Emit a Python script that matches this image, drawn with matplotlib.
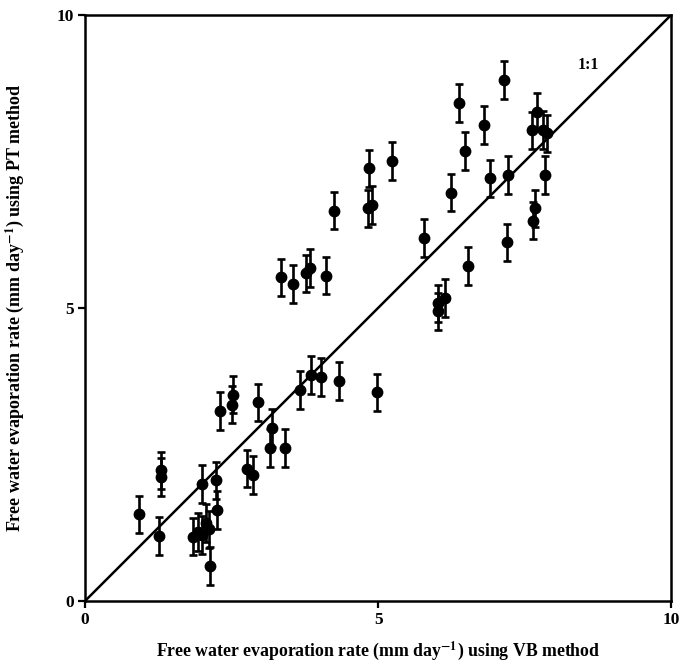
import matplotlib.pyplot as plt

plt.rcParams['font.family'] = ['Liberation Serif', 'DejaVu Serif']
plt.rcParams['font.weight'] = 'bold'
plt.rcParams['mathtext.fontset'] = 'stix'

# VB method (x) vs PT method (y), mm/day
vb = [0.92, 1.27, 1.29, 1.29, 1.99, 2.24, 2.26, 2.14,
      1.85, 1.92, 2.00, 2.06, 2.12,
      2.30, 2.50, 2.53, 2.95, 2.76, 2.87, 3.15, 3.19, 3.42,
      3.67, 3.85, 4.03, 4.33, 4.98,
      3.34, 3.54, 3.77, 3.84, 4.12,
      4.25, 4.82, 4.90, 4.85, 5.23,
      5.79, 6.03, 6.03, 6.14, 6.25, 6.38, 6.48, 6.54, 6.81, 6.91,
      7.14, 7.20, 7.22, 7.65, 7.68, 7.62, 7.71, 7.82, 7.88, 7.85]
pt = [1.48, 1.11, 2.23, 2.12, 2.00, 2.06, 1.55, 0.60,
      1.10, 1.18, 1.13, 1.33, 1.22,
      3.24, 3.35, 3.52, 3.39, 2.26, 2.15, 2.61, 2.95, 2.61,
      3.60, 3.86, 3.82, 3.75, 3.56,
      5.52, 5.41, 5.59, 5.68, 5.55,
      6.66, 6.70, 6.76, 7.38, 7.51,
      6.19, 5.08, 4.94, 5.17, 6.97, 8.50, 7.68, 5.72, 8.12, 7.21,
      8.89, 6.12, 7.27, 6.49, 6.70, 8.03, 8.35, 8.04, 7.98, 7.27]
err = 0.32

ticks = [0, 5, 10]

fig = plt.figure(figsize=(6.8, 6.66), dpi=100)
ax = fig.add_axes([0.125, 0.0976, 0.862, 0.88])

ax.plot([0, 10], [0, 10], color='black', lw=1.8)
ax.errorbar(vb, pt, yerr=err, fmt='o', color='black', ms=7.5,
            elinewidth=1.9, capsize=2.6, capthick=1.9)
ax.text(8.59, 9.15, '1:1', ha='center', va='center', fontsize=11.5, fontweight='bold')

ax.set_xlim(0, 10)
ax.set_ylim(0, 10)
ax.set_xticks(ticks)
ax.set_yticks(ticks)
ax.tick_params(direction='out', length=5, width=1.6, labelsize=12.5, pad=3)
for s in ax.spines.values():
    s.set_linewidth(1.8)

ax.set_xlabel(r'Free water evaporation rate (mm day$^{\mathbf{-1}}$) using VB method',
              fontsize=12.8, fontweight='bold', labelpad=8)
ax.set_ylabel(r'Free water evaporation rate (mm day$^{\mathbf{-1}}$) using PT method',
              fontsize=13, fontweight='bold', labelpad=22)

plt.savefig('out.png', dpi=100)
